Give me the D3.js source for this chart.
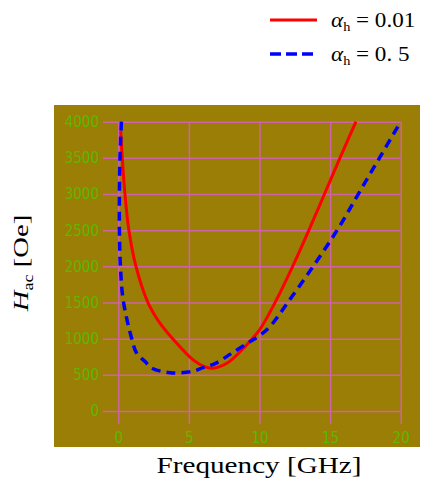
<!DOCTYPE html>
<html>
<head>
<meta charset="utf-8">
<script src="https://cdn.jsdelivr.net/npm/d3@7"></script>
<style>
  body { margin: 0; background: #fff; }
  .tick text { font-family: 'Liberation Sans Narrow', 'DejaVu Sans Condensed', sans-serif; font-stretch: condensed; font-size: 15px; fill: #5cb800; }
  .tick line { stroke: #cf63a8; stroke-width: 1.5; }
  .title { font-family: 'Liberation Serif', 'DejaVu Serif', serif; fill: #000; }
</style>
</head>
<body>
<script>
// frequency [GHz] and H_ac [Oe]
var redF = [0.17, 0.28, 0.47, 0.75, 1.25, 2.1, 2.9, 3.85, 5.3, 6.1, 6.7, 7.8, 8.97, 10, 11.1, 12.35, 13.5, 14.6, 15.7, 16.83]
var redH = [3870, 3500, 3000, 2500, 2000, 1500, 1230, 1000, 706, 613, 592, 675, 890, 1121, 1500, 2000, 2500, 3000, 3500, 4000]

var blueF = [0.22, 0.12, 0.08, 0.08, 0.15, 0.35, 0.95, 1.3, 1.9, 2.36, 3.66, 5.2, 6.0, 6.85, 8.03, 9.33, 10, 10.74, 12.0, 13.8, 15.5, 17.0, 18.5, 20]
var blueH = [4000, 3500, 3000, 2500, 2000, 1530, 1000, 800, 683, 595, 530, 545, 600, 655, 798, 959, 1042, 1167, 1500, 2000, 2500, 3000, 3500, 4000]

var xTicks = [0, 5, 10, 15, 20]
var yTicks = [0, 500, 1000, 1500, 2000, 2500, 3000, 3500, 4000]
var legendLabels = ['0.01', '0. 5']

var width = 424
var height = 486

var svg = d3.select('body').append('svg')
  .attr('width', width)
  .attr('height', height)

var x = d3.scaleLinear()
  .domain([0, 20])
  .range([118.3, 400.7])

var y = d3.scaleLinear()
  .domain([0, 4000])
  .range([411, 121.7])

// olive panel
svg.append('rect')
  .attr('x', 54)
  .attr('y', 105)
  .attr('width', 366)
  .attr('height', 342)
  .style('fill', '#9b7e05')

var gridLeft = 103
var gridBottom = 424

var yAxis = d3.axisLeft(y)
  .tickValues(yTicks)
  .tickFormat(d3.format('d'))
  .tickSize(-(x(20) - gridLeft))
  .tickPadding(4)

var xAxis = d3.axisBottom(x)
  .tickValues(xTicks)
  .tickFormat(d3.format('d'))
  .tickSize(-(gridBottom - y(4000)))
  .tickPadding(8)

svg.append('g')
  .attr('transform', 'translate(' + gridLeft + ',0)')
  .call(yAxis)
  .call(function (g) { g.select('.domain').remove() })

svg.append('g')
  .attr('transform', 'translate(0,' + gridBottom + ')')
  .call(xAxis)
  .call(function (g) { g.select('.domain').remove() })

var line = d3.line()
  .x(function (d) { return x(d[0]) })
  .y(function (d) { return y(d[1]) })
  .curve(d3.curveCatmullRom)

svg.append('path')
  .datum(d3.zip(redF, redH))
  .attr('d', line)
  .style('fill', 'none')
  .style('stroke', '#ff0000')
  .style('stroke-width', 3)

svg.append('path')
  .datum(d3.zip(blueF, blueH))
  .attr('d', line)
  .style('fill', 'none')
  .style('stroke', '#0000ff')
  .style('stroke-width', 3.5)
  .style('stroke-dasharray', '9,6')

// legend
var legend = svg.selectAll('.legend')
  .data(legendLabels)
  .enter().append('g')
  .attr('class', 'legend')
  .attr('transform', function (d, i) { return 'translate(0,' + (20 + i * 34) + ')' })

legend.append('line')
  .attr('x1', 270)
  .attr('x2', 317)
  .style('stroke', function (d, i) { return i === 0 ? '#ff0000' : '#0000ff' })
  .style('stroke-width', function (d, i) { return i === 0 ? 3 : 3.5 })
  .style('stroke-dasharray', function (d, i) { return i === 0 ? null : '11,5' })

var lt = legend.append('text')
  .attr('class', 'title')
  .attr('transform', 'translate(331,7) scale(1.1,1)')
  .style('font-size', '21px')

lt.append('tspan').style('font-style', 'italic').text('α')
lt.append('tspan').attr('dy', 4).style('font-size', '13px').text('h')
lt.append('tspan').attr('dy', -4).text(function (d) { return ' = ' + d })

// axis titles
svg.append('text')
  .attr('class', 'title')
  .attr('transform', 'translate(259,473) scale(1.27,1)')
  .attr('text-anchor', 'middle')
  .style('font-size', '23px')
  .text('Frequency [GHz]')

var yt = svg.append('text')
  .attr('class', 'title')
  .attr('transform', 'translate(28,263) rotate(-90) scale(1.3,1)')
  .attr('text-anchor', 'middle')
  .style('font-size', '22px')

yt.append('tspan').style('font-style', 'italic').text('H')
yt.append('tspan').attr('dy', 5).style('font-size', '14px').text('ac')
yt.append('tspan').attr('dy', -5).text(' [Oe]')
</script>
</body>
</html>
